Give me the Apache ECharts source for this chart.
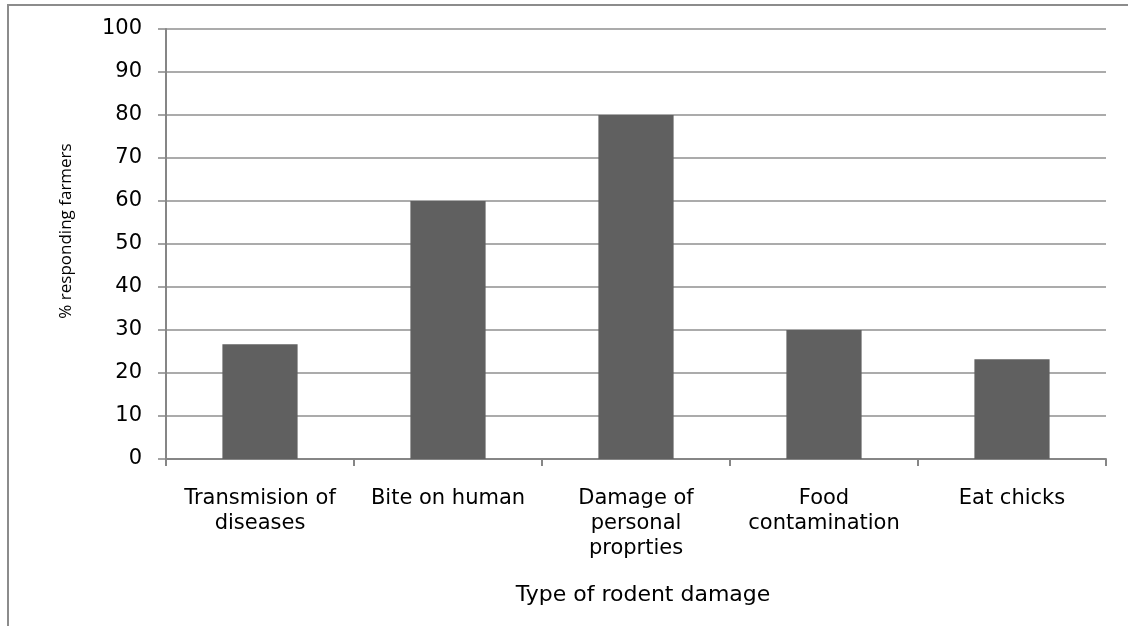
<!DOCTYPE html>
<html>
<head>
<meta charset="utf-8">
<title>Type of rodent damage</title>
<script src="https://cdn.jsdelivr.net/npm/echarts@6/dist/echarts.min.js"></script>
<style>
  html, body { margin: 0; padding: 0; background: #ffffff; }
  #chart { width: 1128px; height: 626px; }
</style>
</head>
<body>
<div id="chart"></div>
<script>
// Damage categories along the x axis
const categories = [
  'Transmision of\ndiseases',
  'Bite on human',
  'Damage of\npersonal\nproprties',
  'Food\ncontamination',
  'Eat chicks'
];
// Share of farmers reporting each damage type (%)
const responding = [26.7, 60, 80, 30, 23.2];

const yMin = 0;
const yMax = 100;
const yStep = 10;

const axisGray = '#868686';
const gridGray = '#8f8f8f';
const barGray = '#606060';
const textColor = '#000000';
const font = '"DejaVu Sans", "Open Sans", sans-serif';

const chart = echarts.init(document.getElementById('chart'), null, { renderer: 'canvas' });

chart.setOption({
  animation: false,
  backgroundColor: '#ffffff',
  grid: { left: 166, right: 22, top: 29, bottom: 167, containLabel: false },
  xAxis: {
    type: 'category',
    data: categories,
    boundaryGap: true,
    axisLine: { show: true, lineStyle: { color: axisGray, width: 2 } },
    axisTick: { show: true, alignWithLabel: false, length: 7, lineStyle: { color: axisGray, width: 2 } },
    axisLabel: {
      interval: 0,
      margin: 27,
      color: textColor,
      fontFamily: font,
      fontSize: 21,
      lineHeight: 25,
      align: 'center'
    },
    splitLine: { show: false }
  },
  yAxis: {
    type: 'value',
    min: yMin,
    max: yMax,
    interval: yStep,
    axisLine: { show: true, lineStyle: { color: axisGray, width: 2 } },
    axisTick: { show: true, length: 8, lineStyle: { color: axisGray, width: 1.5 } },
    axisLabel: {
      margin: 24,
      color: textColor,
      fontFamily: font,
      fontSize: 21
    },
    splitLine: { show: true, lineStyle: { color: gridGray, width: 1.5 } }
  },
  series: [{
    type: 'bar',
    data: responding,
    barWidth: '40%',
    itemStyle: { color: barGray },
    silent: true
  }],
  graphic: [
    {
      // chart frame (top and left edges)
      type: 'rect',
      silent: true,
      shape: { x: 8, y: 5, width: 1400, height: 900 },
      style: { fill: 'none', stroke: '#8c8c8c', lineWidth: 2 }
    },
    {
      type: 'text',
      silent: true,
      x: 643,
      y: 595,
      style: {
        text: 'Type of rodent damage',
        fill: textColor,
        font: '22px ' + font,
        align: 'center',
        verticalAlign: 'middle'
      }
    },
    {
      type: 'text',
      silent: true,
      x: 66,
      y: 231,
      rotation: Math.PI / 2,
      style: {
        text: '% responding farmers',
        fill: textColor,
        font: '17px "Liberation Sans Narrow", "Open Sans", sans-serif',
        align: 'center',
        verticalAlign: 'middle'
      }
    }
  ]
});
</script>
</body>
</html>
